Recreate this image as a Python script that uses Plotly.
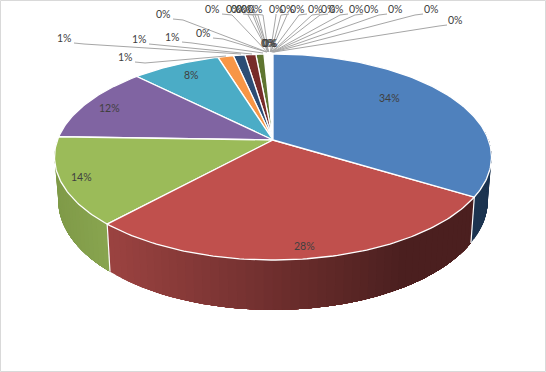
import math
import plotly.graph_objects as go

# ---- data ----
main_values = [33.7, 28.1, 13.7, 12.0, 7.7, 1.35, 1.0, 0.95, 0.7]
small_values = [0.05, 0.03, 0.04, 0.02, 0.03, 0.05, 0.04, 0.03, 0.02, 0.04, 0.06,
                0.03, 0.02, 0.04, 0.03, 0.05, 0.03, 0.02, 0.04, 0.03, 0.05, 0.03]
values = main_values + small_values

# ---- styles and placement ----
palette = ["#4f81bd", "#c0504d", "#9bbb59", "#8064a2", "#4bacc6", "#f79646",
           "#2c4d75", "#772c2a", "#5f7530", "#4d3b62", "#276a7c", "#b65708",
           "#729aca", "#cd7371", "#afc97a", "#9983b5", "#6fbdd1", "#f9ab6b"]
TEXT = "#404040"
FONT = "Lato"
FS = 10.5
APEX = (273.0, 140.0)
K, A, B = 0.165, 100.2, 215.5
inside_pos = [(389, 98), (304, 246), (81, 177), (109, 108), (191, 75)]
outer_pos = [(125, 57), (64, 38), (139, 39), (172, 37)]
zero_pos = [(203, 33), (163, 14), (212, 9), (233, 9), (238, 9), (243, 9), (248, 9), (255, 9),
            (269, 43), (268, 43), (270, 43),
            (276, 9), (287, 9), (297, 9), (315, 9), (328, 9), (336, 9), (356, 9),
            (371, 9), (395, 9), (431, 9), (455, 20)]
outer_ends = [(226, 56), (241, 54), (252, 54), (263, 53)]


def top_pt(t):
    u, v = math.sin(t), math.cos(t)
    w = 1 + K * v
    return APEX[0] + B * u / w, APEX[1] - A * v / w


def bot_pt(t):
    x, y = top_pt(t)
    return APEX[0] + (x - APEX[0]) * 0.983, APEX[1] + (y - APEX[1]) * 1.063 + 42.4


def mix(c1, c2, f):
    a = [int(c1[i:i + 2], 16) for i in (1, 3, 5)]
    b = [int(c2[i:i + 2], 16) for i in (1, 3, 5)]
    return "rgb(%d,%d,%d)" % tuple(round(p + (q - p) * f) for p, q in zip(a, b))


total = sum(values)
edges = [0.0]
for val in values:
    edges.append(edges[-1] + val / total * 2 * math.pi)

fig = go.Figure()


def poly(xs, ys, fill, line, width):
    fig.add_trace(go.Scatter(x=xs, y=ys, mode="lines", fill="toself", fillcolor=fill,
                             line=dict(color=line, width=width), hoverinfo="skip",
                             showlegend=False))


def wall_color(i, x):
    f = max(0.0, min(1.0, (x - 110) / 290))
    if i == 0:
        return "#1c3450"
    if i == 1:
        return mix("#9a4240", "#4b1f1f", f)
    return mix("#7f9a48", "#8aa650", max(0.0, min(1.0, (x - 55) / 55)))


# side walls (front half only); each band covers the remainder of its wall, so
# the next band paints over it and no seams show between the colour steps
for i in (2, 1, 0):
    a0 = max(edges[i], math.radians(85))
    a1 = min(edges[i + 1], math.radians(272))
    n = max(2, int((a1 - a0) / math.radians(2.0)))
    # walk from the left end (largest angle) towards the right
    for j in range(n):
        t_far = a0
        t_near = a1 - (a1 - a0) * j / n
        m = n - j
        arc = [t_far + (t_near - t_far) * s / m for s in range(m + 1)]
        xs = [top_pt(t)[0] for t in arc] + [bot_pt(t)[0] for t in reversed(arc)]
        ys = [top_pt(t)[1] for t in arc] + [bot_pt(t)[1] for t in reversed(arc)]
        xs.append(xs[0])
        ys.append(ys[0])
        c = wall_color(i, top_pt(t_near)[0])
        poly(xs, ys, c, c, 0)
    if i < 2:
        p0, p1 = top_pt(edges[i + 1]), bot_pt(edges[i + 1])
        fig.add_trace(go.Scatter(x=[p0[0], p1[0]], y=[p0[1], p1[1]], mode="lines",
                                 line=dict(color="white", width=1.2), hoverinfo="skip",
                                 showlegend=False))

# top faces: small slices first so the large ones stay clean
order = list(range(len(values) - 1, -1, -1))
for i in order:
    n = max(2, int((edges[i + 1] - edges[i]) / math.radians(1)))
    pts = [top_pt(edges[i] + (edges[i + 1] - edges[i]) * j / n) for j in range(n + 1)]
    xs = [APEX[0]] + [q[0] for q in pts] + [APEX[0]]
    ys = [APEX[1]] + [q[1] for q in pts] + [APEX[1]]
    poly(xs, ys, palette[i % len(palette)], "white", 1.3)


# leader lines
def leader(pos, end):
    x, y = pos
    if x > end[0] + 25:
        sx, ex = x - 8, x - 16
    elif x < end[0] - 25:
        sx, ex = x + 10, x + 20
    else:
        sx, ex = x, x
    fig.add_trace(go.Scatter(x=[sx, ex, end[0]], y=[y + 5, y + 6, end[1]], mode="lines",
                             line=dict(color="#a6a6a6", width=1), hoverinfo="skip",
                             showlegend=False))


for pos, end in zip(outer_pos, outer_ends):
    leader(pos, end)
for k, pos in enumerate(zero_pos):
    if pos[1] > 40:
        continue
    leader(pos, (266.5 + k * 0.35, 52))

# labels
annotations = []
all_pos = inside_pos + outer_pos + zero_pos
for val, pos in zip(values, all_pos):
    annotations.append(dict(x=pos[0], y=pos[1], xref="x", yref="y", showarrow=False,
                            text="%d%%" % round(val / total * 100),
                            font=dict(family=FONT, size=FS, color=TEXT)))

fig.update_layout(
    width=546, height=372, margin=dict(l=0, r=0, t=0, b=0),
    paper_bgcolor="white", plot_bgcolor="white", showlegend=False,
    xaxis=dict(range=[0, 546], visible=False, fixedrange=True),
    yaxis=dict(range=[372, 0], visible=False, fixedrange=True),
    annotations=annotations,
    shapes=[dict(type="rect", xref="x", yref="y", x0=0.5, y0=0.5, x1=545.5, y1=371.5,
                 line=dict(color="#d9d9d9", width=1))],
)
fig.write_html("out.html", config=dict(displayModeBar=False),
               post_script="document.body.style.margin='0';document.body.style.overflow='hidden';")
